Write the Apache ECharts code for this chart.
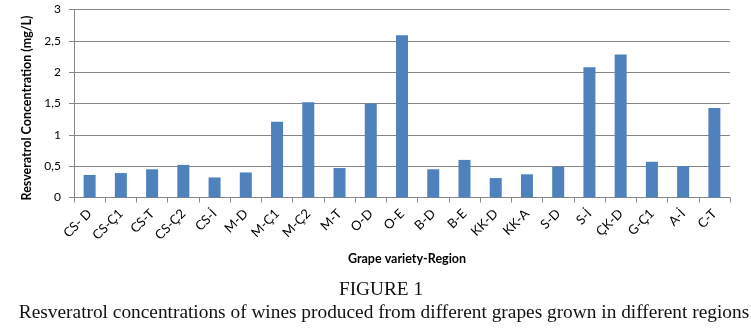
<!DOCTYPE html>
<html><head><meta charset="utf-8">
<script src="https://cdn.jsdelivr.net/npm/echarts@6/dist/echarts.min.js"></script>
<style>html,body{margin:0;padding:0;background:#fff}#c{width:751px;height:329px}</style>
</head><body><div id="c"></div>
<script>
const categories = ["CS- D","CS-Ç1","CS-T","CS-Ç2","CS-İ","M-D","M-Ç1","M-Ç2","M-T","O-D","O-E","B-D","B-E","KK-D","KK-A","S-D","S-İ","ÇK-D","G-Ç1","A-İ","C-T"];
const values = [0.36,0.39,0.45,0.52,0.32,0.40,1.21,1.52,0.47,1.50,2.59,0.45,0.60,0.31,0.37,0.49,2.08,2.28,0.57,0.50,1.43];
const yTicks = [0,0.5,1,1.5,2,2.5,3];
const yLabels = ["0","0,5","1","1,5","2","2,5","3"];
const chart = echarts.init(document.getElementById('c'));
const lab = 'Lato, "Open Sans", sans-serif';
const serif = '"Liberation Serif", "Times New Roman", serif';
chart.setOption({
  animation:false,
  grid:{left:74,right:21,top:9.5,bottom:131.5,containLabel:false},
  title:[
    {text:'Grape variety-Region',left:402,top:247,textAlign:'center',textStyle:{fontFamily:lab,fontSize:12.5,fontWeight:'bold',color:'#000'}},
    {text:'FIGURE 1',left:376,top:275,textAlign:'center',textStyle:{fontFamily:serif,fontSize:19.3,fontWeight:'normal',color:'#111'}},
    {text:'Resveratrol concentrations of wines produced from different grapes grown in different regions',left:379,top:298,textAlign:'center',textStyle:{fontFamily:serif,fontSize:19.35,fontWeight:'normal',color:'#111'}}
  ],
  xAxis:{type:'category',data:categories,boundaryGap:true,
    axisLine:{lineStyle:{color:'#868686'}},
    axisTick:{show:true,alignWithLabel:false,length:5,lineStyle:{color:'#868686'}},
    axisLabel:{rotate:45,interval:0,fontFamily:lab,fontSize:13,color:'#000',margin:14}},
  yAxis:{type:'value',min:0,max:3,interval:0.5,
    name:'Resveratrol Concentration (mg/L)',nameLocation:'middle',nameGap:31,
    nameTextStyle:{fontFamily:lab,fontSize:12.5,fontWeight:'bold',color:'#000',padding:[0,9,0,0]},
    axisLine:{show:true,lineStyle:{color:'#868686'}},
    axisTick:{show:true,length:5,lineStyle:{color:'#868686'}},
    axisLabel:{fontFamily:lab,fontSize:12,color:'#000',margin:13,formatter:v=>yLabels[yTicks.indexOf(v)] ?? String(v)},
    splitLine:{lineStyle:{color:'#868686'}}},
  series:[{type:'bar',data:values,barWidth:12,itemStyle:{color:'#4F81BD'}}]
});
</script></body></html>
